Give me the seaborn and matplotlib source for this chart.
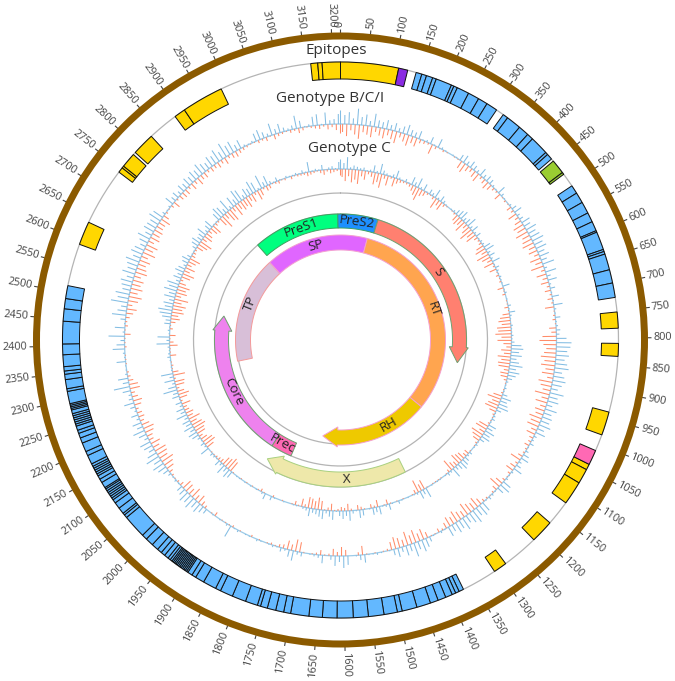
import matplotlib
matplotlib.use("Agg")
import matplotlib.pyplot as plt
import seaborn as sns
import numpy as np
import pandas as pd

GENOME = 3215

# track heights every 10 positions (pixels from baseline)
BIN = 10
bci_up = [
    14,9,12,6,16,8,11,5,13,7, 6,9,5,8,4,7,10,6,5,8, 1,2,7,1,9,2,1,0,1,1, 6,8,4,7,5,3,8,4,6,5,
    2,1,8,3,1,0,2,5,8,3, 4,9,7,11,8,10,12,9,11,7, 10,6,12,3,11,4,9,2,5,1, 7,1,9,2,1,5,1,2,4,3,
    10,15,14,11,13,9,12,14,8,11, 13,10,7,14,9,11,6,12,8,10, 9,12,7,10,3,2,4,1,3,6, 8,3,5,9,2,1,2,9,11,7,
    1,2,3,1,10,12,9,14,11,8, 13,9,11,7,10,1,2,0,1,5, 9,12,8,14,7,10,5,9,6,1, 0,1,2,1,1,8,5,1,0,9,
    12,6,10,4,0,8,3,2,1,0, 4,3,10,7,2,4,1,2,1,0, 1,2,0,1,1,0,2,1,12,2, 0,1,0,1,0,5,7,10,8,12,
    9,11,7,6,1,2,1,3,6,9, 12,8,14,10,6,9,11,4,8,12, 6,9,3,7,2,5,10,4,3,8, 16,6,10,2,1,1,9,1,2,12,
    8,4,16,2,10,1,5,14,9,6, 17,11,14,8,10,12,7,13,9,11, 14,8,12,10,6,9,13,7,11,10, 9,13,11,3,1,2,9,5,7,4,
    8,6,9,7,10,8,12,9,7,11, 9,13,8,15,10,12,6,9,2,1, 2,8,10,6,3,12,5,9,4,2, 4,13,7,1,2,9,11,1,12,4,
    5,10,
]
bci_down = [
    8,12,6,10,14,7,9,11,5,8, 10,6,9,12,5,8,11,7,9,4, 3,2,10,3,1,2,1,0,1,1, 8,10,6,4,7,9,3,5,8,6,
    3,2,7,1,2,1,5,3,9,4, 7,11,9,13,8,10,12,7,9,5, 11,7,13,4,10,5,8,3,6,2, 5,2,9,1,2,3,1,7,5,14,
    17,13,10,12,15,11,14,9,12,6, 14,11,8,15,7,12,6,10,8,13, 10,12,6,9,4,3,5,2,2,5, 11,3,6,8,3,1,3,8,12,5,
    2,1,2,3,7,11,8,10,13,7, 9,12,8,10,6,2,4,1,1,6, 11,8,13,9,14,7,10,12,8,2, 1,0,1,0,1,9,3,0,0,6,
    9,4,7,2,1,5,2,1,0,1, 10,12,6,9,4,3,1,2,1,0, 1,0,2,0,0,1,0,2,1,1, 1,0,4,1,0,3,5,9,6,11,
    7,9,10,4,2,1,2,4,8,10, 13,9,11,12,7,10,5,6,9,11, 8,4,6,5,3,7,9,6,4,10, 9,5,3,2,0,1,1,1,0,2,
    1,1,6,1,3,2,4,7,10,5, 10,13,8,12,9,11,7,12,10,8, 11,7,13,9,12,6,10,8,9,7, 7,10,6,2,1,3,7,2,5,6,
    6,3,7,4,8,5,6,3,5,4, 6,4,7,3,5,6,4,3,2,1, 1,3,2,4,1,5,3,2,1,3, 2,5,3,1,2,3,4,2,5,3,
    6,9,
]
c_up = [
    10,6,12,2,4,3,2,3,1,2, 7,2,10,4,2,1,3,8,2,1, 3,1,8,4,10,2,7,1,5,3, 9,2,6,3,1,0,1,2,5,7,
    9,4,6,10,3,7,2,5,1,2, 2,7,9,3,6,2,8,1,4,2, 1,2,1,1,7,1,2,0,1,0, 3,1,6,2,1,0,2,1,1,2,
    1,3,10,12,8,11,6,9,13,7, 11,8,5,2,1,2,1,5,10,7, 9,11,5,1,2,3,1,8,6,10, 7,9,5,1,2,1,0,3,2,5,
    7,9,6,4,10,2,3,1,0,1, 1,0,1,0,10,5,8,2,1,0, 1,0,1,3,0,1,6,2,1,8, 5,7,1,0,6,8,1,3,10,5,
    8,5,1,9,6,3,9,7,5,4, 8,3,2,0,1,1,0,0,1,0, 0,1,4,0,6,2,0,1,0,1, 0,1,0,1,1,0,7,9,5,10,
    3,6,1,2,3,0,9,2,4,1, 3,7,9,5,10,6,8,4,11,5, 8,3,6,1,7,5,14,8,3,10, 4,12,1,1,0,1,3,2,1,2,
    13,3,12,1,2,1,6,5,9,12, 14,8,10,5,11,7,13,9,12,4, 8,5,9,7,3,6,8,4,1,1, 4,7,9,5,6,10,3,6,9,1,
    1,8,12,10,5,13,3,11,6,14, 12,4,9,7,13,10,2,14,5,10, 3,1,4,1,0,2,1,1,2,1, 3,1,10,1,2,1,5,0,2,3,
    1,7,
]
c_down = [
    8,12,7,13,10,14,6,9,3,5, 12,9,14,4,10,2,9,5,3,2, 2,3,6,9,13,7,5,2,1,3, 11,6,9,3,1,0,1,2,7,9,
    7,12,5,9,14,8,11,4,2,3, 8,11,6,13,9,5,10,2,7,1, 3,1,2,0,6,1,3,0,1,1, 4,1,7,10,12,9,14,13,16,10,
    14,8,5,10,7,13,9,12,11,5, 8,7,3,1,0,1,2,9,14,8, 11,13,7,2,1,1,2,10,12,6, 13,10,7,2,1,0,1,5,4,8,
    9,11,5,7,12,3,1,0,1,1, 1,1,0,1,10,7,13,4,1,0, 0,1,0,1,0,1,5,1,0,7, 2,4,0,1,3,5,0,2,7,3,
    4,2,1,7,3,1,9,12,8,10, 11,3,8,1,4,1,0,0,1,0, 0,2,0,0,1,3,1,0,1,0, 1,0,1,0,0,1,11,13,10,9,
    4,3,2,1,1,0,8,12,11,7, 4,9,10,13,11,7,12,6,8,5, 4,9,2,8,11,7,3,9,10,2, 12,6,1,2,1,0,6,1,1,8,
    4,1,6,0,3,1,5,9,7,12, 10,13,8,14,6,11,9,12,7,3, 9,12,6,10,5,8,11,4,3,2, 7,10,13,5,9,7,4,8,10,3,
    2,9,14,6,11,13,5,12,7,10, 8,11,6,9,3,10,7,2,5,4, 1,2,3,1,2,0,3,1,2,2, 2,4,3,2,1,3,5,2,4,3,
    2,6,
]

# epitope blocks: each list is a run of touching blocks, given by its edges
gold_runs = [
    [3160, 3173, 3181, 3215], [0, 108], [752, 782], [810, 834], [938, 982],
    [1041, 1052, 1080, 1124], [1171, 1214], [1282, 1307], [2591, 2635],
    [2743, 2753, 2757, 2785], [2790, 2832], [2889, 2910, 2988],
]
blue_runs = [
    [141, 152, 161, 173, 180, 210, 215, 222, 245, 266, 284, 305],
    [320, 330, 358, 378, 390, 425, 430, 441],
    [503, 519, 539, 561, 579, 597, 600, 634, 638, 643, 673, 698, 725],
    [1373, 1382, 1389, 1396, 1409, 1424, 1439, 1465, 1493, 1502, 1527, 1556, 1584,
     1614, 1641, 1666, 1700, 1713, 1728, 1744, 1757, 1763, 1786, 1812, 1836, 1846,
     1871, 1888, 1896, 1905, 1908, 1911, 1914, 1917, 1920, 1923, 1926, 1929, 1932,
     1935, 1938, 1941, 1945, 1950, 1958, 1966, 1975, 1988, 2003, 2013, 2057, 2063,
     2067, 2079, 2091, 2098, 2102, 2106, 2110, 2114, 2118, 2122, 2125, 2136, 2143,
     2150, 2154, 2158, 2162, 2166, 2170, 2175, 2192, 2200, 2217, 2227, 2236, 2242,
     2250, 2254, 2258, 2262, 2266, 2270, 2274, 2281, 2284, 2287, 2290, 2293, 2316,
     2321, 2338, 2348, 2354, 2362, 2384, 2404, 2446, 2469, 2488, 2512],
]
purple_run = [108, 125]
green_run = [446, 473, 477]
pink_run = [1013, 1041]

# genes: name, start, end, arrow tip (or None), fill, edge
outer_genes = [
    ("PreS1", 2848, 3204, None, "#00FF7F", "#3FA060"),
    ("PreS2", 3204, 3370, None, "#1E90FF", "#3FA060"),
    ("S", 155, 835, 902, "#FF8070", "#6FA070"),
    ("Core", 1901, 2452, 2515, "#EE82EE", "#6FA070"),
    ("Prec", 1814, 1901, None, "#FF69B4", "#6FA070"),
]
inner_genes = [
    ("TP", 2307, 2837, None, "#D8BFD8", "#F49A9A"),
    ("SP", 2837, 3347, None, "#E066FF", "#F4A0D0"),
    ("RT", 132, 1157, None, "#FFA54F", "#F4A0D0"),
    ("RH", 1157, 1623, 1701, "#EEC900", "#F4A0D0"),
]
x_gene = ("X", 1374, 1838, 1890, "#EEE8AA", "#A8D080")

label_pos = {"PreS1": 3042, "PreS2": 70, "S": 491, "Core": 2180, "Prec": 1868,
             "TP": 2607, "SP": 3084, "RT": 640, "RH": 1342, "X": 1585}

tick_positions = list(range(0, 3201, 50))


def th(pos):
    return np.asarray(pos, dtype=float) / GENOME * 2 * np.pi


def draw_run(ax, edges, color):
    for a, b in zip(edges[:-1], edges[1:]):
        ax.bar(th((a + b) / 2), 17, width=th(b - a), bottom=261, facecolor=color,
               edgecolor="#111111", linewidth=0.7, zorder=4)


def draw_gene(ax, gene, r0, r1):
    name, start, end, tip, fill, edge = gene
    t = th(np.linspace(start, end, 80))
    ts = list(t)
    rs = [r1] * len(t)
    if tip is not None:
        ts += [t[-1], th(tip), t[-1]]
        rs += [r1 + 2, (r0 + r1) / 2, r0 - 3]
    ts += list(t[::-1])
    rs += [r0] * len(t)
    ax.fill(ts, rs, facecolor=fill, edgecolor=edge, linewidth=0.7, zorder=3)
    # text follows the band, upright on the lower half
    p = label_pos[name]
    deg = p / GENOME * 360
    rot = 180 - deg if 95 < deg < 265 else -deg
    ax.text(th(p), (r0 + r1) / 2, name, rotation=rot, rotation_mode="anchor", ha="center",
            va="center", fontsize=9.5, color="#222222", zorder=6)


def draw_track(ax, base, up, down):
    pos = np.arange(len(up)) * BIN
    ax.vlines(th(pos), base, base + np.array(up), color="#83BDE3", linewidth=0.75, zorder=2)
    ax.vlines(th(pos + BIN / 2), base - np.array(down), base, color="#FF8C69", linewidth=0.75,
              zorder=2)


def main():
    sns.set_theme(style="white")
    plt.rcParams["font.family"] = ["Open Sans", "DejaVu Sans"]

    fig = plt.figure(figsize=(6.75, 6.81), dpi=100)
    # axes of 680 px around the ring centre, one data unit of r is one pixel
    ax = fig.add_axes([(340.5 - 340) / 675, (681 - 340 - 340) / 681, 680 / 675, 680 / 681],
                      projection="polar")
    ax.set_theta_zero_location("N")
    ax.set_theta_direction(-1)

    circle = th(np.linspace(0, GENOME, 400))
    rings = pd.concat([
        pd.DataFrame({"theta": circle, "r": r, "ring": name})
        for name, r in [("a", 278), ("b", 147), ("c", 126), ("d", 104)]
    ])
    sns.lineplot(data=rings, x="theta", y="r", units="ring", estimator=None, color="#B4B4B4",
                 linewidth=0.9, legend=False, ax=ax, zorder=1)
    tracks = pd.concat([
        pd.DataFrame({"theta": circle, "r": r, "ring": name})
        for name, r in [("bci", 216), ("c", 171)]
    ])
    sns.lineplot(data=tracks, x="theta", y="r", units="ring", estimator=None, color="#9CCBE8",
                 linewidth=0.9, legend=False, ax=ax, zorder=2)

    draw_track(ax, 216, bci_up, bci_down)
    draw_track(ax, 171, c_up, c_down)

    for run in gold_runs:
        draw_run(ax, run, "#FFD700")
    for run in blue_runs:
        draw_run(ax, run, "#63B8FF")
    draw_run(ax, purple_run, "#8A2BE2")
    draw_run(ax, green_run, "#9ACD32")
    draw_run(ax, pink_run, "#FF69B4")

    for gene in outer_genes:
        draw_gene(ax, gene, 112, 126)
    for gene in inner_genes:
        draw_gene(ax, gene, 90, 105)
    draw_gene(ax, x_gene, 132, 147)

    # outer ring, ticks and their labels
    ax.bar(0, 7, width=2 * np.pi, bottom=300.5, color="#8B5A00", linewidth=0, zorder=5)
    ax.vlines(th(tick_positions), 307, 311, color="#444444", linewidth=0.8)
    for p in tick_positions:
        deg = p / GENOME * 360
        if deg <= 180:
            rot, ha = 90 - deg, "left"
        else:
            rot, ha = 270 - deg, "right"
        ax.text(th(p), 313, str(p), rotation=rot, rotation_mode="anchor", ha=ha, va="center",
                fontsize=7.8, color="#444444", clip_on=False)

    for text, x, y in [("Epitopes", 336, 50), ("Genotype B/C/I", 330, 98), ("Genotype C", 349, 149)]:
        fig.text(x / 675, 1 - y / 681, text, ha="center", va="center", fontsize=11, color="#333333")

    ax.set_xlim(0, 2 * np.pi)
    ax.set_ylim(0, 340)
    ax.set_axis_off()
    fig.savefig("out.png", dpi=100)


if __name__ == "__main__":
    main()
